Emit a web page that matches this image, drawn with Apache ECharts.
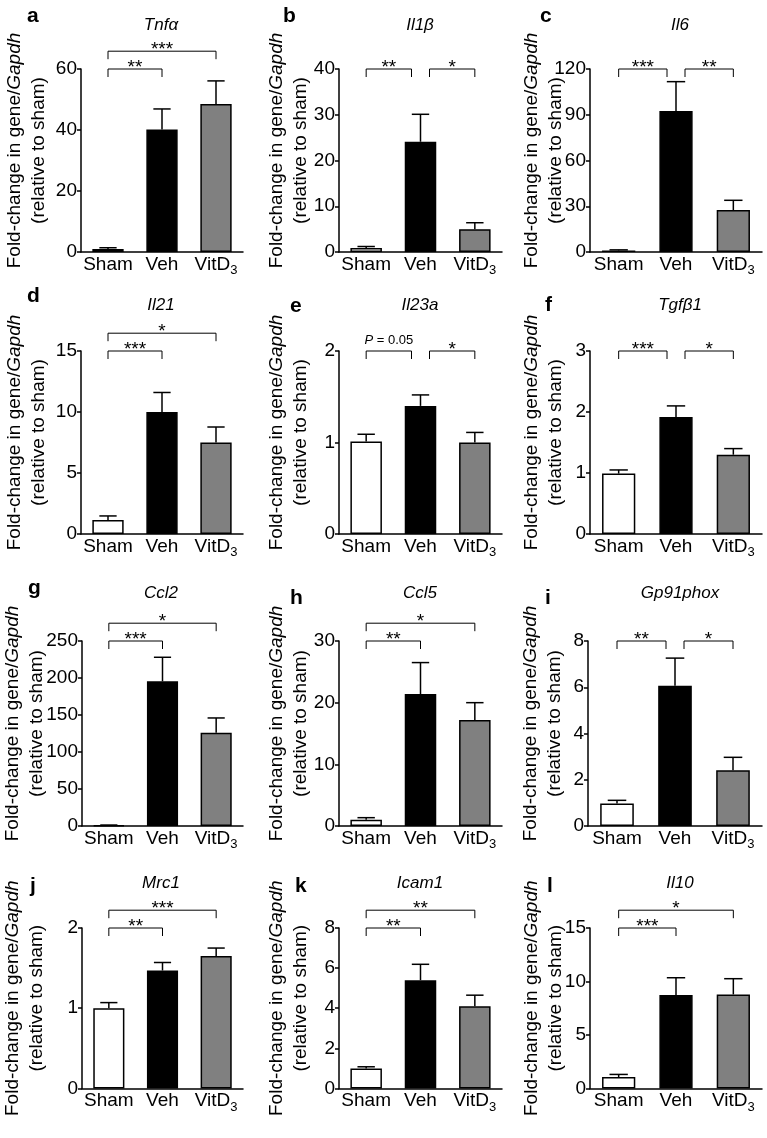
<!DOCTYPE html>
<html>
<head>
<meta charset="utf-8">
<script src="https://cdn.jsdelivr.net/npm/echarts@6/dist/echarts.min.js"></script>
<style>
  html, body { margin: 0; padding: 0; background: #fff; }
  #chart { width: 767px; height: 1138px; }
</style>
</head>
<body>
<div id="chart"></div>
<script>
// twelve panels (a-l), three groups each
const letters = ['a', 'b', 'c', 'd', 'e', 'f', 'g', 'h', 'i', 'j', 'k', 'l'];
const genes = ['Tnfα', 'Il1β', 'Il6', 'Il21', 'Il23a', 'Tgfβ1', 'Ccl2', 'Ccl5', 'Gp91phox', 'Mrc1', 'Icam1', 'Il10'];
const groups = ['Sham', 'Veh', 'VitD3'];

// mean and SEM per panel
const shamMean = [1.0, 0.9, 1.0, 1.15, 1.01, 0.99, 1.0, 1.02, 0.97, 1.0, 1.0, 1.06];
const shamSem  = [0.4, 0.3, 0.4, 0.33, 0.08, 0.06, 0.3, 0.33, 0.14, 0.07, 0.08, 0.25];
const vehMean  = [40.2, 24.1, 92.5, 10.0, 1.40, 1.92, 195.5, 21.4, 6.06, 1.47, 5.40, 8.74];
const vehSem   = [6.7, 6.0, 19.2, 1.6, 0.12, 0.18, 32.5, 5.1, 1.2, 0.10, 0.79, 1.61];
const vitMean  = [48.5, 5.0, 27.5, 7.5, 1.0, 1.30, 126, 17.2, 2.41, 1.65, 4.10, 8.79];
const vitSem   = [7.6, 1.4, 6.4, 1.27, 0.11, 0.10, 20, 2.8, 0.56, 0.10, 0.55, 1.47];

// y axis ticks
const yMax  = [60, 40, 120, 15, 2, 3, 250, 30, 8, 2, 8, 15];
const yStep = [20, 10, 30, 5, 1, 1, 50, 10, 2, 1, 2, 5];

// significance brackets: [from group, to group, level, label]
const brackets = [
  [[0, 1, 0, '**'], [0, 2, 1, '***']],
  [[0, 1, 0, '**'], [1, 2, 0, '*']],
  [[0, 1, 0, '***'], [1, 2, 0, '**']],
  [[0, 1, 0, '***'], [0, 2, 1, '*']],
  [[0, 1, 0, 'P = 0.05'], [1, 2, 0, '*']],
  [[0, 1, 0, '***'], [1, 2, 0, '*']],
  [[0, 1, 0, '***'], [0, 2, 1, '*']],
  [[0, 1, 0, '**'], [0, 2, 1, '*']],
  [[0, 1, 0, '**'], [1, 2, 0, '*']],
  [[0, 1, 0, '**'], [0, 2, 1, '***']],
  [[0, 1, 0, '**'], [0, 2, 1, '**']],
  [[0, 1, 0, '***'], [0, 2, 1, '*']]
];

// layout (pixels)
const gridLeft = [81, 339, 590, 81, 339, 590, 77, 339, 588, 77, 339, 590];
const gridWidth = [162, 163, 172, 162, 163, 172, 166, 163, 174, 166, 163, 172];
const rowTop = [69, 351, 641, 928];
const rowHeight = [183, 183, 185, 184];
const nameGap = [30, 26, 22, 30, 26, 22, 33, 26, 21, 33, 26, 22];
const titleX = [161, 420, 680];
const titleY = [25, 305, 593, 883];
const letterX = [27, 283, 540, 27, 290, 545, 28, 290, 545, 30, 295, 547];
const letterY = [23, 23, 23, 303, 313, 312, 595, 605, 605, 893, 893, 893];

const FONT = '"Liberation Sans", Arial, Helvetica, sans-serif';
const NARROW = '"Liberation Sans Narrow", "Arial Narrow", "Liberation Sans", Arial, sans-serif';
const barColors = ['#ffffff', '#000000', '#808080'];

const grids = [], xAxes = [], yAxes = [], series = [], graphics = [];

function errorItem(params, api) {
  const x = api.coord([api.value(0), 0])[0];
  const yBar = api.coord([0, api.value(1)])[1];
  const yTop = api.coord([0, api.value(1) + api.value(2)])[1];
  const half = api.size([1, 0])[0] * 0.16;
  const st = { stroke: '#000', lineWidth: 1.5 };
  return {
    type: 'group',
    children: [
      { type: 'line', shape: { x1: x, y1: yBar, x2: x, y2: yTop }, style: st },
      { type: 'line', shape: { x1: x - half, y1: yTop, x2: x + half, y2: yTop }, style: st }
    ]
  };
}

function bracketItem(p) {
  return function (params, api) {
    const list = brackets[p];
    const b = list[params.dataIndex];
    let x1 = api.coord([b[0], 0])[0];
    let x2 = api.coord([b[1], 0])[0];
    // chained brackets leave a gap above the shared bar
    if (list.some(o => o !== b && o[0] === b[1])) x2 -= 9;
    if (list.some(o => o !== b && o[1] === b[0])) x1 += 9;
    const y = api.coord([0, yMax[p]])[1] - b[2] * 17.8;
    const isP = b[3].charAt(0) === 'P';
    return {
      type: 'group',
      children: [
        {
          type: 'polyline',
          shape: { points: [[x1, y + 8], [x1, y], [x2, y], [x2, y + 8]] },
          style: { stroke: '#000', lineWidth: 1, fill: null }
        },
        {
          type: 'text',
          x: (x1 + x2) / 2,
          y: isP ? y - 4 : y + 8,
          style: {
            text: isP ? '{i|P}{n| = 0.05}' : b[3],
            rich: {
              i: { fontFamily: FONT, fontSize: 13, fontStyle: 'italic', fill: '#000' },
              n: { fontFamily: FONT, fontSize: 13, fill: '#000' }
            },
            fontFamily: FONT,
            fontSize: isP ? 13 : 19,
            fill: '#000',
            align: 'center', textAlign: 'center',
            verticalAlign: 'bottom', textVerticalAlign: 'bottom'
          }
        }
      ]
    };
  };
}

for (let p = 0; p < 12; p++) {
  const col = p % 3, row = Math.floor(p / 3);
  grids.push({
    left: gridLeft[p], top: rowTop[row],
    width: gridWidth[p], height: rowHeight[row]
  });
  xAxes.push({
    gridIndex: p, type: 'category', data: groups,
    axisLine: { lineStyle: { color: '#000', width: 1.5 } },
    axisTick: { show: false },
    axisLabel: {
      interval: 0,
      margin: 3,
      formatter: v => v === 'VitD3' ? '{m|VitD}{s|3}' : '{m|' + v + '}',
      rich: {
        m: { fontFamily: NARROW, fontSize: 19, color: '#000', lineHeight: 21, verticalAlign: 'top' },
        s: { fontFamily: NARROW, fontSize: 13, color: '#000', lineHeight: 21, verticalAlign: 'top', padding: [9, 0, 0, 0] }
      }
    }
  });
  yAxes.push({
    gridIndex: p, type: 'value', min: 0, max: yMax[p], interval: yStep[p],
    axisLine: { show: true, lineStyle: { color: '#000', width: 1.5 } },
    axisTick: { show: true, length: 4, lineStyle: { color: '#000', width: 1.5 } },
    splitLine: { show: false },
    axisLabel: { color: '#000', fontSize: 19, fontFamily: NARROW, margin: 4 },
    name: '{n|Fold-change in gene/}{i|Gapdh}\n{n|(relative to sham)}',
    nameLocation: 'middle', nameRotate: 90, nameGap: nameGap[p],
    nameMoveOverlap: false,
    nameTextStyle: {
      fontFamily: FONT, fontSize: 19, color: '#000', lineHeight: 24,
      padding: [0, 0, 0, 20],
      rich: {
        n: { fontFamily: FONT, fontSize: 19, color: '#000', lineHeight: 24 },
        i: { fontFamily: FONT, fontSize: 19, color: '#000', lineHeight: 24, fontStyle: 'italic' }
      }
    }
  });
  series.push({
    type: 'bar', xAxisIndex: p, yAxisIndex: p, barWidth: '58%',
    itemStyle: { borderColor: '#000', borderWidth: 1.5 },
    data: [shamMean[p], vehMean[p], vitMean[p]].map((v, k) => ({
      value: v, itemStyle: { color: barColors[k] }
    }))
  });
  series.push({
    type: 'custom', xAxisIndex: p, yAxisIndex: p, z: 5, clip: false,
    renderItem: errorItem,
    data: [[0, shamMean[p], shamSem[p]], [1, vehMean[p], vehSem[p]], [2, vitMean[p], vitSem[p]]]
  });
  series.push({
    type: 'custom', xAxisIndex: p, yAxisIndex: p, z: 5, clip: false,
    renderItem: bracketItem(p),
    data: brackets[p].map(b => [b[0], b[1], b[2]])
  });
  graphics.push({
    type: 'text', x: titleX[col], y: titleY[row],
    style: {
      text: genes[p], fontFamily: FONT, fontSize: 17, fontStyle: 'italic', fill: '#000',
      align: 'center', textAlign: 'center', verticalAlign: 'middle', textVerticalAlign: 'middle'
    }
  });
  graphics.push({
    type: 'text', x: letterX[p], y: letterY[p] + 4,
    style: {
      text: letters[p], fontFamily: FONT, fontSize: 21, fontWeight: 'bold', fill: '#000',
      align: 'left', textAlign: 'left', verticalAlign: 'bottom', textVerticalAlign: 'bottom'
    }
  });
}

const chart = echarts.init(document.getElementById('chart'));
chart.setOption({
  animation: false,
  backgroundColor: '#fff',
  grid: grids,
  xAxis: xAxes,
  yAxis: yAxes,
  series: series,
  graphic: { elements: graphics }
});
</script>
</body>
</html>
